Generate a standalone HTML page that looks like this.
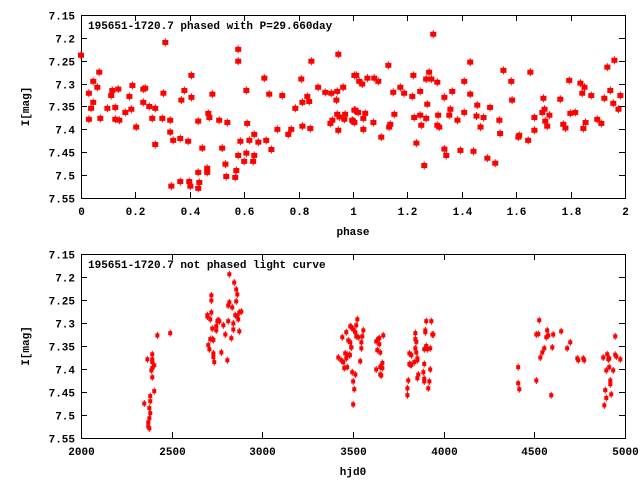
<!DOCTYPE html>
<html><head><meta charset="utf-8"><style>
html,body{margin:0;padding:0;background:#fff}
svg{display:block;font-family:"Liberation Mono",monospace;font-weight:bold;font-size:11px}
</style></head><body>
<svg id="c" width="640" height="480"></svg>
<script>
// Top chart data: phase and magnitude
const phasePhase=[0,.029,.029,.037,.045,.045,.06,.067,.071,.097,.111,.115,.126,.126,.137,.141,.163,.178,.185,.189,.203,.229,.229,.236,.251,.262,.273,.273,.299,.303,.31,.328,.328,.332,.339,.365,.365,.369,.38,.394,.398,.402,.406,.406,.431,.431,.431,.435,.446,.464,.464,.468,.472,.483,.508,.519,.531,.534,.538,.567,.571,.578,.578,.578,.586,.6,.608,.608,.611,.619,.633,.637,.637,.652,.674,.681,.692,.7,.722,.74,.762,.773,.788,.81,.814,.814,.832,.839,.843,.847,.872,.898,.917,.92,.924,.939,.942,.946,.946,.942,.95,.964,.968,.971,1.005,1.005,1.0,.997,1.005,1.012,1.008,1.019,1.023,1.034,1.038,1.038,1.045,1.053,1.075,1.078,1.093,1.104,1.13,1.133,1.137,1.148,1.152,1.174,1.188,1.218,1.222,1.225,1.233,1.247,1.247,1.251,1.262,1.269,1.273,1.269,1.28,1.288,1.295,1.31,1.31,1.313,1.317,1.336,1.336,1.343,1.354,1.358,1.365,1.384,1.395,1.409,1.409,1.431,1.431,1.443,1.454,1.457,1.469,1.48,1.494,1.504,1.523,1.538,1.541,1.553,1.582,1.585,1.608,1.611,1.644,1.652,1.667,1.667,1.696,1.7,1.704,1.707,1.714,1.722,1.762,1.773,1.781,1.795,1.799,1.817,1.836,1.843,1.847,1.851,1.855,1.876,1.898,1.913,1.924,1.935,1.946,1.957,1.961,1.976,1.983];
const phaseMag=[7.238,7.321,7.378,7.354,7.295,7.341,7.308,7.275,7.376,7.354,7.326,7.315,7.352,7.378,7.312,7.38,7.363,7.328,7.356,7.304,7.395,7.341,7.312,7.31,7.35,7.376,7.354,7.433,7.376,7.321,7.21,7.38,7.406,7.524,7.424,7.42,7.514,7.336,7.315,7.426,7.514,7.524,7.282,7.33,7.382,7.494,7.529,7.516,7.441,7.485,7.494,7.365,7.374,7.323,7.38,7.441,7.476,7.503,7.385,7.505,7.49,7.225,7.251,7.457,7.426,7.47,7.315,7.452,7.387,7.424,7.47,7.457,7.411,7.428,7.288,7.424,7.323,7.444,7.4,7.326,7.411,7.4,7.354,7.29,7.341,7.393,7.328,7.339,7.398,7.251,7.308,7.319,7.387,7.321,7.38,7.336,7.317,7.236,7.402,7.367,7.373,7.308,7.378,7.367,7.282,7.358,7.382,7.38,7.385,7.282,7.358,7.363,7.295,7.301,7.376,7.4,7.365,7.288,7.385,7.288,7.295,7.417,7.26,7.395,7.389,7.319,7.367,7.308,7.321,7.328,7.282,7.374,7.43,7.317,7.369,7.391,7.479,7.376,7.345,7.29,7.275,7.29,7.192,7.297,7.391,7.369,7.395,7.33,7.443,7.457,7.369,7.356,7.317,7.38,7.446,7.295,7.363,7.253,7.323,7.448,7.371,7.347,7.395,7.374,7.463,7.352,7.474,7.38,7.409,7.271,7.295,7.336,7.417,7.413,7.424,7.275,7.374,7.402,7.363,7.332,7.356,7.382,7.393,7.369,7.334,7.389,7.397,7.293,7.365,7.363,7.299,7.321,7.398,7.308,7.385,7.326,7.378,7.387,7.332,7.264,7.315,7.343,7.249,7.356,7.326];
// Bottom chart data: hjd0 and magnitude
const hjdTime=[2349,2366,2371,2371,2377,2377,2377,2382,2382,2382,2388,2393,2393,2393,2393,2393,2404,2404,2421,2492,2697,2697,2702,2708,2713,2713,2719,2719,2719,2724,2724,2730,2730,2730,2735,2746,2746,2752,2757,2763,2774,2785,2796,2807,2812,2812,2818,2818,2829,2834,2840,2840,2845,2851,2856,2856,2862,2862,2867,2873,2873,2884,3419,3435,3441,3446,3452,3457,3463,3463,3468,3468,3474,3479,3485,3485,3490,3496,3501,3501,3507,3483,3491,3491,3502,3513,3513,3518,3518,3524,3529,3540,3546,3546,3551,3557,3628,3628,3634,3639,3645,3645,3650,3650,3650,3656,3656,3662,3662,3667,3800,3800,3805,3811,3811,3816,3822,3822,3838,3844,3844,3844,3849,3849,3855,3855,3855,3860,3888,3893,3893,3893,3893,3899,3899,3904,3904,3910,3915,3921,3926,3926,3932,3937,3943,4411,4411,4417,4511,4511,4522,4527,4533,4544,4555,4566,4571,4577,4593,4599,4604,4648,4681,4698,4737,4742,4770,4775,4880,4886,4891,4897,4897,4902,4908,4913,4913,4919,4919,4924,4935,4946,4946,4952,4974];
const hjdMag=[7.475,7.379,7.516,7.525,7.529,7.507,7.485,7.496,7.47,7.459,7.403,7.368,7.379,7.385,7.398,7.418,7.392,7.448,7.327,7.322,7.283,7.286,7.348,7.357,7.292,7.335,7.277,7.24,7.251,7.312,7.335,7.337,7.366,7.374,7.385,7.316,7.307,7.296,7.294,7.296,7.364,7.305,7.325,7.381,7.296,7.262,7.255,7.194,7.333,7.266,7.301,7.314,7.212,7.283,7.227,7.253,7.238,7.286,7.292,7.318,7.277,7.275,7.375,7.381,7.331,7.385,7.398,7.366,7.32,7.377,7.396,7.369,7.338,7.369,7.307,7.342,7.353,7.407,7.477,7.427,7.444,7.37,7.353,7.309,7.314,7.32,7.412,7.305,7.329,7.292,7.331,7.383,7.342,7.355,7.329,7.316,7.34,7.401,7.359,7.335,7.333,7.346,7.364,7.396,7.412,7.414,7.393,7.387,7.398,7.327,7.457,7.442,7.425,7.366,7.389,7.391,7.37,7.391,7.385,7.322,7.355,7.335,7.341,7.364,7.377,7.381,7.42,7.412,7.407,7.389,7.421,7.427,7.357,7.32,7.316,7.296,7.35,7.357,7.442,7.427,7.355,7.401,7.296,7.325,7.325,7.396,7.431,7.444,7.425,7.325,7.324,7.294,7.375,7.364,7.355,7.331,7.316,7.327,7.457,7.353,7.325,7.318,7.355,7.342,7.377,7.381,7.377,7.381,7.375,7.479,7.446,7.463,7.403,7.368,7.379,7.377,7.396,7.425,7.433,7.455,7.403,7.329,7.369,7.373,7.379];
const yTicks=["7.15","7.2","7.25","7.3","7.35","7.4","7.45","7.5","7.55"];
const phaseTicks=["0","0.2","0.4","0.6","0.8","1","1.2","1.4","1.6","1.8","2"];
const hjdTicks=["2000","2500","3000","3500","4000","4500","5000"];

const NS="http://www.w3.org/2000/svg";
const svg=document.getElementById('c');
function mk(tag,attrs,parent){const e=document.createElementNS(NS,tag);for(const k in attrs)e.setAttribute(k,attrs[k]);(parent||svg).appendChild(e);return e;}

function plot(o){
  const g=mk('g',{});
  
  
  const L=81,R=625,T=o.top,B=o.top+o.hgt;
  const sx=v=>L+(v-o.x0)/(o.x1-o.x0)*(R-L);
  const sy=v=>T+(v-7.15)/0.4*(B-T);
  const fr=mk('rect',{x:L+.5,y:T+.5,width:R-L,height:B-T,fill:'none',stroke:'#000','stroke-width':1},g);
  
  
  yTicks.forEach(t=>{
    const y=Math.round(sy(parseFloat(t)))+.5;
    mk('line',{x1:L,x2:L+6,y1:y,y2:y,stroke:'#000'},g);
    mk('line',{x1:R-6,x2:R,y1:y,y2:y,stroke:'#000'},g);
    const tx=mk('text',{x:L-6,y:y+4,'text-anchor':'end'},g);
    tx.textContent=t;
    
    
  });
  o.xt.forEach(t=>{
    const x=Math.round(sx(parseFloat(t)))+.5;
    mk('line',{x1:x,x2:x,y1:B,y2:B-6,stroke:'#000'},g);
    mk('line',{x1:x,x2:x,y1:T,y2:T+6,stroke:'#000'},g);
    const tx=mk('text',{x:x,y:B+17,'text-anchor':'middle'},g);
    tx.textContent=t;
    
    
  });
  const yl=mk('text',{x:0,y:0,'text-anchor':'middle',transform:`translate(29,${(T+B)/2}) rotate(-90)`},g);
  yl.textContent='I[mag]';
  
  
  const xl=mk('text',{x:(L+R)/2,y:B+37,'text-anchor':'middle'},g);
  xl.textContent=o.xlabel;
  
  
  const ti=mk('text',{x:88,y:T+14},g);
  ti.textContent=o.title;
  
  
  o.xs.forEach((v,i)=>{
    const x=sx(v),y=sy(o.ys[i]);
    const p=mk('g',{},g);
    
    
    mk('rect',{x:x-o.w/2,y:y-o.h/2,width:o.w,height:o.h,fill:'#f00'},p);
    mk('line',{x1:x,x2:x,y1:y-o.h/2-1.5,y2:y+o.h/2+1.5,stroke:'#f00','stroke-width':1},p);
  });
}
plot({name:'phased-light-curve',top:15,hgt:183,x0:0,x1:2,xt:phaseTicks,xs:phasePhase,ys:phaseMag,xlabel:'phase',title:'195651-1720.7 phased with P=29.660day',w:6,h:5});
plot({name:'unphased-light-curve',top:254,hgt:184,x0:2000,x1:5000,xt:hjdTicks,xs:hjdTime,ys:hjdMag,xlabel:'hjd0',title:'195651-1720.7 not phased light curve',w:4,h:4});
</script>
</body></html>
